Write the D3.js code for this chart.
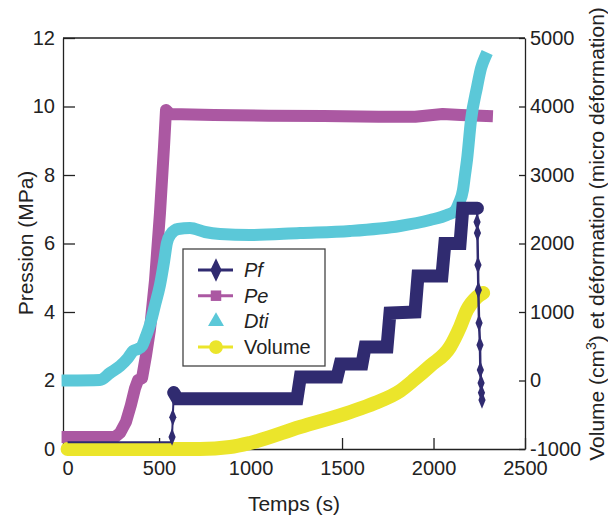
<!DOCTYPE html>
<html>
<head>
<meta charset="utf-8">
<script src="https://cdn.jsdelivr.net/npm/d3@7"></script>
<style>
  body { margin: 0; background: #fff; }
  text { font-family: "Liberation Sans", Arial, Helvetica, sans-serif; fill: #222; }
</style>
</head>
<body>
<div id="chart"></div>
<script>
// Pression / volume / déformation vs temps
const width = 608, height = 516, margin = {top: 38, right: 83, bottom: 67, left: 63};

// time axis (s)
const tTicks = [0, 500, 1000, 1500, 2000, 2500];
const pTicks = [0, 2, 4, 6, 8, 10, 12];
const vTicks = [-1000, 0, 1000, 2000, 3000, 4000, 5000];

// Pf (MPa) : low start, stepped band, final drop
const pfStartT = [0, 565, 571, 575, 580];
const pfStartV = [0.2, 0.2, 0.35, 0.93, 1.6];
const pfT = [580, 600, 1254, 1272, 1473, 1490, 1609, 1626, 1746, 1762, 1899, 1915, 2046, 2062, 2145, 2160, 2240];
const pfV = [1.65, 1.47, 1.47, 2.1, 2.1, 2.48, 2.48, 2.98, 2.98, 3.97, 4.0, 5.05, 5.05, 6.0, 6.0, 7.03, 7.03];
const pfDropT = [2240, 2238, 2240, 2243, 2245, 2249, 2254, 2256, 2260, 2262, 2265];
const pfDropV = [7.03, 6.63, 6.31, 5.37, 4.64, 3.68, 3.04, 2.31, 1.93, 1.64, 1.43];

// Pe (MPa)
const peT = [0, 259, 287, 319, 346, 369, 385, 407, 429, 450, 478, 505, 527, 538, 560, 800, 1100, 1400, 1700, 1900, 2050, 2150, 2292];
const peV = [0.35, 0.35, 0.47, 0.79, 1.28, 1.78, 2.01, 2.07, 2.74, 3.47, 4.93, 6.89, 8.82, 9.9, 9.78, 9.75, 9.73, 9.72, 9.7, 9.7, 9.78, 9.75, 9.72];

// Dti (micro déformation, right axis)
const dtiT = [0, 177, 232, 287, 330, 358, 385, 407, 429, 450, 478, 505, 527, 543, 565, 604, 669, 751, 833, 997, 1270, 1544, 1817, 1981, 2074, 2117, 2139, 2161, 2172, 2183, 2205, 2238, 2260, 2280];
const dtiV = [0, 7, 110, 212, 328, 431, 460, 504, 650, 810, 1102, 1394, 1730, 2007, 2139, 2212, 2226, 2168, 2139, 2124, 2153, 2183, 2256, 2343, 2416, 2475, 2591, 2781, 3000, 3219, 3803, 4285, 4562, 4708];

// Volume (cm3, right axis)
const volT = [0, 724, 888, 997, 1270, 1544, 1680, 1817, 1899, 1981, 2090, 2145, 2183, 2238, 2271];
const volV = [-1000, -1000, -971, -912, -679, -460, -328, -153, 22, 212, 489, 781, 1029, 1219, 1278];

const colPf = "#302b70", colPe = "#ab58a2", colDti = "#5bc8d8", colVol = "#ebe52b";

const svg = d3.select("#chart").append("svg").attr("width", width).attr("height", height);

const x = d3.scaleLinear().domain([-25, 2500]).range([margin.left, width - margin.right]);
const yP = d3.scaleLinear().domain([0, 12]).range([height - margin.bottom, margin.top]);
const yV = d3.scaleLinear().domain([-1000, 5000]).range([height - margin.bottom, margin.top]);

const zip = (ts, vs) => ts.map((t, i) => [t, vs[i]]);
const lineP = d3.line().x(d => x(d[0])).y(d => yP(d[1]));
const smoothV = d3.line().x(d => x(d[0])).y(d => yV(d[1])).curve(d3.curveMonotoneX);

// axes (drawn first, curves lie over them)
const fs = 20;
const fmt = d => String(d);
const axB = svg.append("g").attr("transform", `translate(0,${height - margin.bottom})`)
  .call(d3.axisBottom(x).tickValues(tTicks).tickFormat(fmt).tickSize(-11).tickSizeOuter(0).tickPadding(12));
const axL = svg.append("g").attr("transform", `translate(${margin.left},0)`)
  .call(d3.axisLeft(yP).tickValues(pTicks).tickFormat(fmt).tickSize(-12).tickSizeOuter(0).tickPadding(8));
const axR = svg.append("g").attr("transform", `translate(${width - margin.right},0)`)
  .call(d3.axisRight(yV).tickValues(vTicks).tickFormat(fmt).tickSize(-6).tickSizeOuter(0).tickPadding(5));
[axB, axL, axR].forEach(a => {
  a.selectAll("text").attr("font-size", fs).attr("fill", "#222");
  a.selectAll("line, path").attr("stroke", "#222").attr("stroke-width", 1.3);
});
svg.append("line").attr("x1", margin.left).attr("x2", width - margin.right)
  .attr("y1", margin.top).attr("y2", margin.top).attr("stroke", "#222").attr("stroke-width", 1.3);

const g = svg.append("g");

// Pe band
g.append("path").attr("d", lineP(zip(peT, peV))).attr("fill", "none")
  .attr("stroke", colPe).attr("stroke-width", 12).attr("stroke-linecap", "square").attr("stroke-linejoin", "round");

// Dti band
g.append("path").attr("d", smoothV(zip(dtiT, dtiV))).attr("fill", "none")
  .attr("stroke", colDti).attr("stroke-width", 12).attr("stroke-linecap", "square").attr("stroke-linejoin", "round");

// Volume band
g.append("path").attr("d", smoothV(zip(volT, volV))).attr("fill", "none")
  .attr("stroke", colVol).attr("stroke-width", 14).attr("stroke-linecap", "round").attr("stroke-linejoin", "round");

// Pf
g.append("path").attr("d", lineP(zip(pfStartT, pfStartV))).attr("fill", "none")
  .attr("stroke", colPf).attr("stroke-width", 2);
g.append("path").attr("d", lineP(zip(pfT, pfV))).attr("fill", "none")
  .attr("stroke", colPf).attr("stroke-width", 13).attr("stroke-linecap", "round").attr("stroke-linejoin", "miter");
g.append("path").attr("d", lineP(zip(pfDropT, pfDropV))).attr("fill", "none")
  .attr("stroke", colPf).attr("stroke-width", 2.5);
const diamond = d3.symbol().type(d3.symbolDiamond).size(45);
g.selectAll(".pfm").data(zip(pfStartT, pfStartV).slice(2, 4).concat(zip(pfDropT, pfDropV).slice(1)))
  .join("path").attr("class", "pfm")
  .attr("transform", d => `translate(${x(d[0])},${yP(d[1])}) scale(1,1.4)`)
  .attr("d", diamond).attr("fill", colPf);

// axis titles
svg.append("text").attr("x", (margin.left + width - margin.right) / 2).attr("y", 511)
  .attr("text-anchor", "middle").attr("font-size", 21).text("Temps (s)");
svg.append("text").attr("transform", "rotate(-90)").attr("x", -243).attr("y", 33)
  .attr("text-anchor", "middle").attr("font-size", 21).text("Pression (MPa)");
const rt = svg.append("text").attr("transform", "translate(604,234) rotate(-90)")
  .attr("text-anchor", "middle").attr("font-size", 21);
rt.append("tspan").text("Volume (cm");
rt.append("tspan").attr("font-size", 14).attr("baseline-shift", "super").text("3");
rt.append("tspan").text(") et déformation (micro déformation)");

// legend
const legend = svg.append("g").attr("transform", "translate(183,249)");
legend.append("rect").attr("width", 142).attr("height", 117)
  .attr("fill", "#fff").attr("stroke", "#444").attr("stroke-width", 1.3);
const items = [
  {name: "Pf", color: colPf, line: true, sym: d3.symbolDiamond, italic: true},
  {name: "Pe", color: colPe, line: true, sym: d3.symbolSquare, italic: true},
  {name: "Dti", color: colDti, line: false, sym: d3.symbolTriangle, italic: true},
  {name: "Volume", color: colVol, line: true, sym: d3.symbolCircle, italic: false}
];
items.forEach((d, i) => {
  const yy = 21 + i * 25.7;
  if (d.line) legend.append("line").attr("x1", 15).attr("x2", 50).attr("y1", yy).attr("y2", yy)
    .attr("stroke", d.color).attr("stroke-width", 3);
  legend.append("path").attr("transform", `translate(33,${yy})` + (d.sym === d3.symbolDiamond ? " scale(1,1.2)" : ""))
    .attr("d", d3.symbol().type(d.sym).size(d.sym === d3.symbolCircle ? 150 : 110)).attr("fill", d.color);
  legend.append("text").attr("x", 61).attr("y", yy + 7).attr("font-size", fs)
    .attr("font-style", d.italic ? "italic" : "normal").text(d.name);
});
</script>
</body>
</html>
